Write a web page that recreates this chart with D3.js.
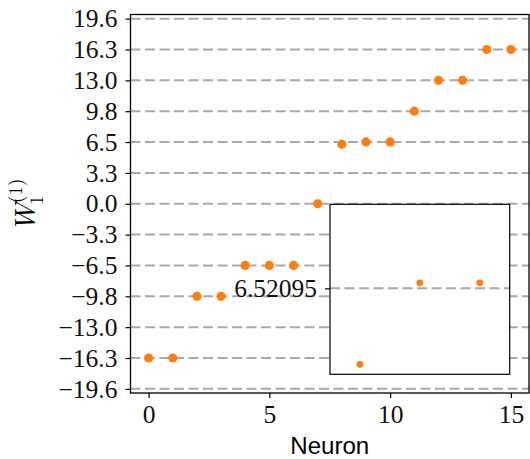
<!DOCTYPE html>
<html>
<head>
<meta charset="utf-8">
<script src="https://cdn.jsdelivr.net/npm/d3@7"></script>
<style>
  html, body { margin: 0; padding: 0; background: #fff; }
  svg { display: block; }
</style>
</head>
<body>
<svg id="chart" width="530" height="459"></svg>
<script>
// ---- data ----
const neurons = [0, 1, 2, 3, 4, 5, 6, 7, 8, 9, 10, 11, 12, 13, 14, 15];
const weights = [-16.302, -16.302, -9.781, -9.781, -6.521, -6.521, -6.521, 0.0,
                 6.285, 6.538, 6.538, 9.781, 13.042, 13.042, 16.302, 16.302];
const yTickValues = [-19.5629, -16.3024, -13.0419, -9.7814, -6.5210, -3.2605, 0,
                     3.2605, 6.5210, 9.7814, 13.0419, 16.3024, 19.5629];
const xTickValues = [0, 5, 10, 15];
const insetNeurons = [8, 9, 10];
const insetTick = 6.52095;
const insetTickLabel = "6.52095";

// ---- layout ----
const svg = d3.select("#chart");
const L = 130.5, R = 529, T = 14.5, B = 393;
const x = d3.scaleLinear().domain([-0.75, 15.75]).range([L, R]);
const y = d3.scaleLinear().domain([-20, 20]).range([B, T]);
const tickFont = "\"Liberation Serif\", \"DejaVu Serif\", serif";
const mathFont = "\"Latin Modern Roman\", \"Liberation Serif\", serif";
const sans = "\"Liberation Sans\", \"DejaVu Sans\", sans-serif";
const orange = "#ff7f0e";
const gridColor = "#a9a9a9";
const fmt = v => d3.format(".1f")(v).replace("-", "\u2212");

function styleAxis(g) {
  g.attr("font-family", null).attr("font-size", null);
  g.select(".domain").remove();
  g.selectAll("text").style("font-family", tickFont).style("font-size", "25.5px").attr("fill", "#111");
  g.selectAll("line").attr("stroke", "#000").attr("stroke-width", 1.2);
}

// gridlines
svg.append("g").selectAll("line").data(yTickValues).join("line")
  .attr("x1", L).attr("x2", R)
  .attr("y1", d => y(d)).attr("y2", d => y(d))
  .attr("stroke", gridColor).attr("stroke-width", 2)
  .attr("stroke-dasharray", "10,4.5");

// y axis
svg.append("g").attr("transform", `translate(${L},0)`)
  .call(d3.axisLeft(y).tickValues(yTickValues).tickFormat(fmt).tickSize(5).tickPadding(8))
  .call(styleAxis);

// x axis
svg.append("g").attr("transform", `translate(0,${B})`)
  .call(d3.axisBottom(x).tickValues(xTickValues).tickFormat(d3.format("d")).tickSize(5).tickPadding(7))
  .call(styleAxis);

// points
svg.append("g").selectAll("circle").data(neurons).join("circle")
  .attr("cx", d => x(d)).attr("cy", (d, i) => y(weights[i]))
  .attr("r", 4.6).attr("fill", orange);

// frame
svg.append("rect").attr("x", L).attr("y", T).attr("width", R - L).attr("height", B - T)
  .attr("fill", "none").attr("stroke", "#000").attr("stroke-width", 1.3);

// labels
svg.append("text").attr("x", (L + R) / 2).attr("y", 454)
  .attr("text-anchor", "middle").style("font-family", sans).style("font-size", "24px")
  .attr("textLength", 79).attr("lengthAdjust", "spacingAndGlyphs")
  .text("Neuron");

const yl = svg.append("g").attr("transform", "translate(35,232) rotate(-90)");
yl.append("text").attr("x", 0).attr("y", 0).style("font-family", mathFont)
  .style("font-style", "italic").style("font-size", "29px").text("W");
yl.append("text").attr("x", 27).attr("y", 8).style("font-family", mathFont)
  .style("font-size", "19px").text("1");
yl.append("text").attr("x", 29).attr("y", -13).style("font-family", mathFont)
  .style("font-size", "19px").text("(1)");

// inset
const iL = 330, iR = 509.7, iT = 204.3, iB = 374.3;
const ix = d3.scaleLinear().domain([7.5, 10.5]).range([iL, iR]);
const iy = d3.scaleLinear().domain([6.254, 6.782]).range([iB, iT]);
const inset = svg.append("g");
inset.append("rect").attr("x", iL).attr("y", iT).attr("width", iR - iL).attr("height", iB - iT)
  .attr("fill", "#fff");
inset.append("line").attr("x1", iL).attr("x2", iR)
  .attr("y1", iy(insetTick)).attr("y2", iy(insetTick))
  .attr("stroke", gridColor).attr("stroke-width", 2).attr("stroke-dasharray", "10,4.5");
inset.append("g").attr("transform", `translate(${iL},0)`)
  .call(d3.axisLeft(iy).tickValues([insetTick]).tickFormat(() => insetTickLabel).tickSize(5).tickPadding(8))
  .call(styleAxis);
inset.append("g").selectAll("circle").data(insetNeurons).join("circle")
  .attr("cx", d => ix(d)).attr("cy", d => iy(weights[neurons.indexOf(d)]))
  .attr("r", 3.4).attr("fill", orange);
inset.append("rect").attr("x", iL).attr("y", iT).attr("width", iR - iL).attr("height", iB - iT)
  .attr("fill", "none").attr("stroke", "#000").attr("stroke-width", 1.2);
</script>
</body>
</html>
